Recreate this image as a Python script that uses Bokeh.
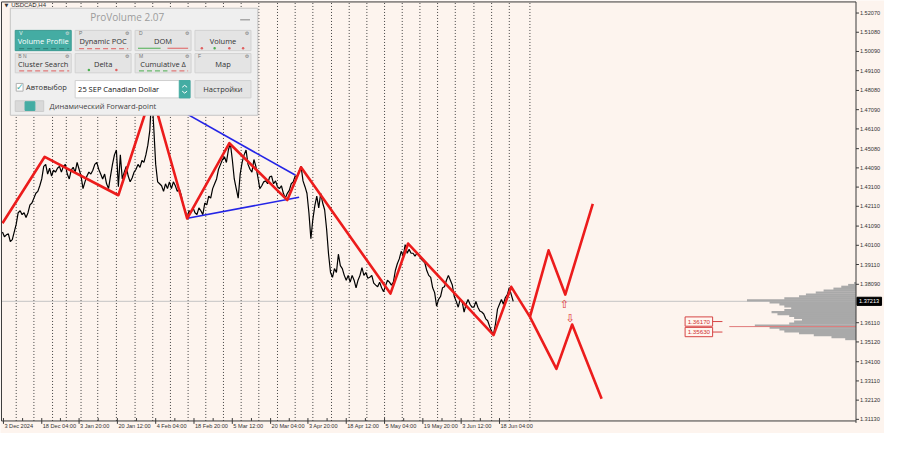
from bokeh.plotting import figure
from bokeh.models import Range1d
from bokeh.core.properties import value
from bokeh.embed import file_html
from bokeh.resources import INLINE

# ---------------- data ----------------
symbol = "USDCAD,H4"
close = [
    1.4079, 1.4054, 1.4064, 1.4069, 1.4029, 1.4039, 1.4079, 1.4119, 1.4178, 1.4188,
    1.4168, 1.4178, 1.4153, 1.4178, 1.4218, 1.4228, 1.4253, 1.4278, 1.4288, 1.4317,
    1.4352, 1.4417, 1.4427, 1.4377, 1.4407, 1.4367, 1.4397, 1.4387, 1.4407, 1.4417,
    1.4387, 1.4417, 1.4427, 1.4377, 1.4352, 1.4397, 1.4412, 1.4387, 1.4437, 1.4402,
    1.4367, 1.4302, 1.4337, 1.4367, 1.4387, 1.4377, 1.4397, 1.4427, 1.4437, 1.4402,
    1.4377, 1.4352, 1.4377, 1.4327, 1.4302, 1.4367, 1.4427, 1.4476, 1.4501, 1.4312,
    1.4476, 1.4352, 1.4387, 1.4417, 1.4367, 1.4337, 1.4357, 1.4387, 1.4402, 1.4427,
    1.4412, 1.4447, 1.4437, 1.4476, 1.4526, 1.4601, 1.4790, 1.4620, 1.4427, 1.4337,
    1.4327, 1.4317, 1.4288, 1.4327, 1.4302, 1.4337, 1.4302, 1.4337, 1.4317, 1.4288,
    1.4302, 1.4268, 1.4218, 1.4188, 1.4153, 1.4188, 1.4178, 1.4203, 1.4178, 1.4168,
    1.4203, 1.4188, 1.4168, 1.4228, 1.4218, 1.4263, 1.4253, 1.4302, 1.4327, 1.4352,
    1.4402, 1.4427, 1.4452, 1.4466, 1.4437, 1.4501, 1.4536, 1.4452, 1.4352, 1.4302,
    1.4253, 1.4377, 1.4437, 1.4476, 1.4501, 1.4427, 1.4402, 1.4387, 1.4452, 1.4417,
    1.4362, 1.4302, 1.4317, 1.4337, 1.4342, 1.4327, 1.4362, 1.4367, 1.4327, 1.4342,
    1.4312, 1.4302, 1.4317, 1.4278, 1.4253, 1.4278, 1.4293, 1.4327, 1.4337, 1.4367,
    1.4367, 1.4392, 1.4417, 1.4342, 1.4312, 1.4278, 1.4178, 1.4044, 1.4144, 1.4213,
    1.4263, 1.4203, 1.4278, 1.4228, 1.4193, 1.4094, 1.3964, 1.3870, 1.3845, 1.3890,
    1.3870, 1.3964, 1.3905, 1.3890, 1.3855, 1.3830, 1.3855, 1.3820, 1.3855, 1.3830,
    1.3791, 1.3830, 1.3855, 1.3895, 1.3855, 1.3870, 1.3840, 1.3845, 1.3855, 1.3815,
    1.3805, 1.3796, 1.3820, 1.3791, 1.3771, 1.3801, 1.3830, 1.3820, 1.3805, 1.3820,
    1.3880, 1.3915, 1.3940, 1.3979, 1.3954, 1.4014, 1.3969, 1.3989, 1.3969, 1.3969,
    1.3954, 1.3969, 1.3964, 1.3940, 1.3930, 1.3920, 1.3880, 1.3855, 1.3845, 1.3791,
    1.3766, 1.3696, 1.3731, 1.3746, 1.3791, 1.3796, 1.3830, 1.3855, 1.3830, 1.3805,
    1.3746, 1.3721, 1.3691, 1.3731, 1.3721, 1.3666, 1.3706, 1.3731, 1.3706, 1.3691,
    1.3691, 1.3721, 1.3691, 1.3671, 1.3666, 1.3656, 1.3631, 1.3621, 1.3592, 1.3567,
    1.3552, 1.3607, 1.3681, 1.3706, 1.3731, 1.3706, 1.3741, 1.3756, 1.3791, 1.3756,
    1.3721,
]
bar_index = list(range(len(close)))

zigzag_x = [0, 21.5, 59, 76, 94, 115.5, 145, 152, 197.5, 206.5, 250, 259, 268.5]
zigzag_y = [1.4124, 1.4466, 1.4268, 1.4794, 1.4148, 1.4536, 1.4243, 1.4412,
            1.3761, 1.4019, 1.3547, 1.3796, 1.3641]
forecast_up_x = [268.5, 278, 286.5, 300.5]
forecast_up_y = [1.3641, 1.3984, 1.3756, 1.4223]
forecast_dn_x = [268.5, 282, 290, 305]
forecast_dn_y = [1.3641, 1.3373, 1.3602, 1.3219]

wedge_upper_x = [76, 149]
wedge_upper_y = [1.4789, 1.4372]
wedge_lower_x = [93.5, 151]
wedge_lower_y = [1.4148, 1.4258]

signal_up_x = [286]
signal_up_y = [1.3706]
signal_dn_x = [289]
signal_dn_y = [1.3631]

week_x = [7, 16, 25.5, 32.5, 40, 48.5, 58, 67.5, 76.5, 85.5, 94.5, 103.5, 112.5,
          121.5, 130.5, 140, 149, 158, 167.5, 176.5, 185.5, 194.5, 203.5, 212.5,
          221.5, 230.5, 240, 249, 258, 268.5]

date_x = [0.5, 20, 39, 58.5, 78, 97.5, 117, 136.5, 155.5, 175, 194.5, 214, 233.5, 253]
date_labels = ["3 Dec 2024", "18 Dec 04:00", "3 Jan 20:00", "20 Jan 12:00",
               "4 Feb 04:00", "18 Feb 20:00", "5 Mar 12:00", "20 Mar 04:00",
               "3 Apr 20:00", "18 Apr 12:00", "5 May 04:00", "19 May 20:00",
               "3 Jun 12:00", "18 Jun 04:00"]

price_ticks = [1.52070, 1.51080, 1.50090, 1.49100, 1.48080, 1.47090, 1.46100,
               1.45080, 1.44090, 1.43100, 1.42110, 1.41090, 1.40100, 1.39110,
               1.38090, 1.36110, 1.35120, 1.34100, 1.33110, 1.32120, 1.31130]
last_price = 1.37213
level_prices = [1.36170, 1.35630]
poc_price = 1.3591

vp_price = [1.3815, 1.3805, 1.3796, 1.3786, 1.3776, 1.3766, 1.3756, 1.3746, 1.3736,
            1.3726, 1.3716, 1.3706, 1.3696, 1.3686, 1.3676, 1.3666, 1.3656, 1.3646,
            1.3636, 1.3626, 1.3616, 1.3606, 1.3596, 1.3586, 1.3577, 1.3567, 1.3557,
            1.3547, 1.3537, 1.3527]
vp_volume = [1, 4, 7.5, 11.5, 16.5, 20.5, 25.5, 29, 36.5, 55.5, 44, 39, 36.5, 33,
             36.5, 43, 40, 34, 31.5, 27.5, 31.5, 34, 51.5, 44, 39, 36.5, 29, 21.5,
             12.5, 5.5]


# ---------------- geometry helpers (screen layout of the terminal window) ----------------
def fx(px):
    return (px - 2) / 2


def fy(py):
    return 1.52716 - 0.000497 * py


BG = "#fdf4ee"
AX = "#3a3a3a"
X_RIGHT = fx(871)     # price-scale line
Y_BOTTOM = fy(436)    # time-scale line
Y_TOP = fy(1.5)
X_LEFT = fx(1)

p = figure(width=884, height=433, x_range=Range1d(fx(0), fx(900)), y_range=Range1d(fy(449), fy(0)),
           output_backend="svg", toolbar_location=None, x_axis_location=None, y_axis_location=None,
           min_border=0, min_border_left=0, min_border_right=0, min_border_top=0, min_border_bottom=0,
           background_fill_color=BG, border_fill_color=BG, outline_line_color=None)
p.grid.visible = False

AXFONT = value("Liberation Sans")

# weekly separators
p.segment(x0=week_x, y0=[Y_BOTTOM] * len(week_x), x1=week_x, y1=[Y_TOP] * len(week_x),
          line_color="#444444", line_width=1, line_dash="1 2")

# current price line
p.segment(x0=[X_LEFT], y0=[last_price], x1=[X_RIGHT], y1=[last_price], line_color="#c4c4c4", line_width=1)

# volume profile
p.hbar(y=vp_price, height=0.0012, left=[X_RIGHT - v for v in vp_volume], right=X_RIGHT,
       fill_color="#a9a9a9", line_color=None)
p.segment(x0=[fx(742)], y0=[poc_price], x1=[X_RIGHT], y1=[poc_price], line_color="#e07a7a", line_width=1)

# price line
p.line(bar_index, close, line_color="black", line_width=1.2)

# wedge
p.line(wedge_upper_x, wedge_upper_y, line_color="#2424e6", line_width=1.6)
p.line(wedge_lower_x, wedge_lower_y, line_color="#2424e6", line_width=1.6)

# zigzag + forecast
RED = "#ec1c1c"
p.line(zigzag_x, zigzag_y, line_color=RED, line_width=2.6, line_join="round")
p.line(forecast_up_x, forecast_up_y, line_color=RED, line_width=2.6, line_join="round")
p.line(forecast_dn_x, forecast_dn_y, line_color=RED, line_width=2.6, line_join="round")

p.text(x=signal_up_x, y=signal_up_y, text=["⇧"], text_font=value("DejaVu Sans"),
       text_font_size="11px", text_color="#e03030", text_align="center", text_baseline="middle")
p.text(x=signal_dn_x, y=signal_dn_y, text=["⇩"], text_font=value("DejaVu Sans"),
       text_font_size="11px", text_color="#e03030", text_align="center", text_baseline="middle")

# level labels
for lp in level_prices:
    p.quad(left=[fx(697)], right=[fx(725)], top=[lp + 0.0024], bottom=[lp - 0.0024],
           fill_color="#fff6f0", line_color="#d64545", line_width=1)
    p.text(x=[fx(711)], y=[lp], text=[f"{lp:.5f}"], text_font=AXFONT,
           text_font_size="6.2px", text_color="#d03030", text_align="center", text_baseline="middle")
    p.segment(x0=[fx(725)], y0=[lp], x1=[fx(735)], y1=[lp], line_color="#d64545", line_width=1)

# ---------------- scales (terminal style) ----------------
p.segment(x0=[X_LEFT, X_LEFT, X_LEFT, X_RIGHT], y0=[Y_TOP, Y_BOTTOM, Y_TOP, Y_TOP],
          x1=[X_RIGHT, X_RIGHT, X_LEFT, X_RIGHT], y1=[Y_TOP, Y_BOTTOM, Y_BOTTOM, fy(438)],
          line_color=AX, line_width=1)
# price scale
p.segment(x0=[X_RIGHT] * len(price_ticks), y0=price_ticks, x1=[fx(874)] * len(price_ticks), y1=price_ticks,
          line_color=AX, line_width=1)
p.text(x=[fx(875)] * len(price_ticks), y=price_ticks, text=[f"{v:.5f}" for v in price_ticks],
       text_font=AXFONT, text_font_size="5.6px", text_color="#333333", text_align="left", text_baseline="middle")
p.quad(left=[fx(872)], right=[fx(897)], top=[last_price + 0.0021], bottom=[last_price - 0.0021],
       fill_color="black", line_color="black")
p.text(x=[fx(874)], y=[last_price], text=[f"{last_price:.5f}"], text_font=AXFONT,
       text_font_size="5.6px", text_color="white", text_align="left", text_baseline="middle")
# time scale
minor_x = [(date_x[i] + date_x[i + 1]) / 2 for i in range(len(date_x) - 1)]
p.segment(x0=date_x, y0=[Y_BOTTOM] * len(date_x), x1=date_x, y1=[fy(439)] * len(date_x),
          line_color=AX, line_width=1)
p.segment(x0=minor_x + date_x, y0=[fy(433)] * (len(minor_x) + len(date_x)),
          x1=minor_x + date_x, y1=[Y_BOTTOM] * (len(minor_x) + len(date_x)), line_color=AX, line_width=1)
p.text(x=date_x, y=[fy(441)] * len(date_x), text=date_labels, text_font=AXFONT, text_font_size="5.6px",
       text_color="#333333", text_align="left", text_baseline="middle", x_offset=1)

# ---------------- ProVolume panel (decoration) ----------------
TEAL = "#44aca3"
FONT = value("Open Sans")


def box(l, t, r, b, fill, line="#cfcfcf"):
    p.quad(left=[fx(l)], right=[fx(r)], top=[fy(t)], bottom=[fy(b)],
           fill_color=fill, line_color=line, line_width=1)


def txt(px, py, s, size="7.5px", color="#333333", align="left", font=FONT):
    p.text(x=[fx(px)], y=[fy(py)], text=[s], text_font=font, text_font_size=size,
           text_color=color, text_align=align, text_baseline="middle")


def dash(x0, x1, py, color, d="5 3"):
    p.segment(x0=[fx(x0)], y0=[fy(py)], x1=[fx(x1)], y1=[fy(py)],
              line_color=color, line_width=1, line_dash=d)


txt(4, 5, "▼", size="5px", color="#333333", font=value("DejaVu Sans"))
txt(11, 5, symbol, size="6px", color="#333333", font=AXFONT)

box(10, 8, 262, 119, "#efefef", "#c4c4c4")
txt(129, 17, "ProVolume 2.07", size="10px", color="#9c9c9c", align="center")
p.segment(x0=[fx(244)], y0=[fy(20)], x1=[fx(254)], y1=[fy(20)], line_color="#a8a8a8", line_width=1.5)

buttons = [("Volume Profile", 15, 31, 72, 52), ("Dynamic POC", 76, 31, 133, 52),
           ("DOM", 137, 31, 194, 52), ("Volume", 198, 31, 255, 52),
           ("Cluster Search", 15, 55, 72, 75), ("Delta", 76, 55, 133, 75),
           ("Cumulative Δ", 137, 55, 194, 75), ("Map", 198, 55, 255, 75)]
for k, (name, l, t, r, b) in enumerate(buttons):
    active = k == 0
    box(l, t, r, b, TEAL if active else "#e4e4e4", "#3b9a92" if active else "#d2d2d2")
    txt((l + r) / 2, (t + b) / 2 + 1, name, size="7.5px",
        color="white" if active else "#333333", align="center")
    txt(r - 4, t + 3, "⚙", size="5px", color="#dddddd" if active else "#777777",
        align="center", font=value("DejaVu Sans"))

for s, px, py, c in [("V", 19, 34, "#e8f5f4"), ("P", 80, 34, "#777777"), ("D", 141, 34, "#777777"),
                     ("B  N", 18, 58, "#777777"), ("M", 141, 58, "#777777"), ("F", 201, 58, "#777777")]:
    txt(px, py, s, size="5px", color=c, font=AXFONT)

dash(19, 70, 50, "#2d7a73")
dash(80, 130, 50, "#e06060")
dash(140, 163, 49.5, "#4caf50", "40 0")
dash(170, 191, 49.5, "#e06060", "40 0")
dash(19, 70, 73, "#e06060")
dash(141, 170, 73, "#4caf50")
dash(174, 191, 73, "#e06060")
p.scatter(x=[fx(205), fx(218), fx(233), fx(247), fx(90), fx(118)],
          y=[fy(49.5)] * 4 + [fy(72)] * 2, size=2.5, line_color=None,
          fill_color=["#e06060", "#4caf50", "#e06060", "#e06060", "#4caf50", "#e06060"])

box(16, 86, 23, 94, "white", "#b0b0b0")
txt(19.5, 89.5, "✓", size="9px", color=TEAL, align="center", font=value("DejaVu Sans"))
txt(26, 90, "Автовыбор", size="7.5px")
box(76, 83, 193, 101, "white", "#cfcfcf")
box(182, 83, 193, 101, TEAL, TEAL)
p.line([fx(185), fx(187.5), fx(190)], [fy(90), fy(88), fy(90)], line_color="white", line_width=1)
p.line([fx(185), fx(187.5), fx(190)], [fy(94), fy(96), fy(94)], line_color="white", line_width=1)
txt(79, 92, "25 SEP Canadian Dollar", size="7.5px", color="#111111")
box(198, 83, 255, 101, "#e4e4e4", "#d2d2d2")
txt(226.5, 92, "Настройки", size="7.5px", align="center")
box(15, 104, 44, 115, "#d9d9d9", "#cccccc")
box(25, 105, 35, 114, TEAL, TEAL)
txt(50, 109.5, "Динамический Forward-point", size="7.5px", color="#444444")

open("out.html", "w").write(file_html(p, INLINE))
